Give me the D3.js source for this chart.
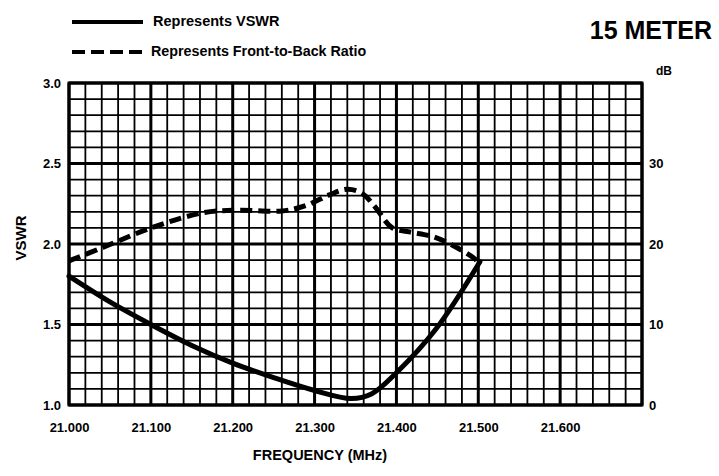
<!DOCTYPE html>
<html><head><meta charset="utf-8">
<script src="https://cdn.jsdelivr.net/npm/d3@7"></script>
<style>
html,body{margin:0;padding:0;background:#fff;}
svg{display:block;font-family:"Liberation Sans",Arial,Helvetica,sans-serif;font-weight:bold;}
</style></head>
<body><svg id="chart" width="719" height="476"></svg>
<script>
// ---- data ----
const freqTickValues = [21.0, 21.1, 21.2, 21.3, 21.4, 21.5, 21.6];
const freqTickLabels = ["21.000","21.100","21.200","21.300","21.400","21.500","21.600"];
const vswrTickValues = [1.0, 1.5, 2.0, 2.5, 3.0];
const vswrTickLabels = ["1.0","1.5","2.0","2.5","3.0"];
const dbTickValues = [0, 10, 20, 30];
const dbTickLabels = ["0","10","20","30"];

const vswrFreq = [21.000, 21.050, 21.100, 21.150, 21.200, 21.250, 21.300, 21.345, 21.370, 21.400, 21.448, 21.502];
const vswrValue = [1.80, 1.64, 1.50, 1.37, 1.26, 1.17, 1.09, 1.04, 1.07, 1.20, 1.47, 1.89];

const fbFreq = [21.000, 21.042, 21.103, 21.165, 21.207, 21.260, 21.290, 21.318, 21.340, 21.358, 21.374, 21.395, 21.416, 21.445, 21.473, 21.494, 21.502];
const fbValue = [17.9, 19.6, 22.1, 23.9, 24.2, 24.1, 24.8, 26.1, 26.8, 26.3, 24.6, 22.0, 21.5, 20.9, 19.6, 18.3, 17.6];

// ---- layout ----
const svg = d3.select("#chart");
const L = 69, R = 642, T = 83, B = 405;
const x = d3.scaleLinear().domain([21.0, 21.7]).range([L, R]);
const y = d3.scaleLinear().domain([1.0, 3.0]).range([B, T]);
const yDb = d3.scaleLinear().domain([0, 40]).range([B, T]);

// grid
const gridX = d3.range(0, 36).map(i => 21.0 + i * 0.02);
const gridY = d3.range(0, 21).map(i => 1.0 + i * 0.1);
const g = svg.append("g");
g.selectAll("line.vx").data(gridX).join("line")
  .attr("x1", d => x(d)).attr("x2", d => x(d)).attr("y1", T).attr("y2", B)
  .attr("stroke", "#000").attr("stroke-width", (d, i) => i % 5 === 0 ? 3 : 1.8);
g.selectAll("line.hy").data(gridY).join("line")
  .attr("x1", L).attr("x2", R).attr("y1", d => y(d)).attr("y2", d => y(d))
  .attr("stroke", "#000").attr("stroke-width", (d, i) => i % 5 === 0 ? 3 : 1.8);
g.append("rect").attr("x", L).attr("y", T).attr("width", R - L).attr("height", B - T)
  .attr("fill", "none").attr("stroke", "#000").attr("stroke-width", 3);

// axes
const axB = svg.append("g").attr("transform", `translate(0,${B + 16})`)
  .call(d3.axisBottom(x).tickValues(freqTickValues).tickFormat((d, i) => freqTickLabels[i]).tickSize(0));
const axL = svg.append("g").attr("transform", `translate(${L - 8},0)`)
  .call(d3.axisLeft(y).tickValues(vswrTickValues).tickFormat((d, i) => vswrTickLabels[i]).tickSize(0));
const axR = svg.append("g").attr("transform", `translate(${R + 7},0)`)
  .call(d3.axisRight(yDb).tickValues(dbTickValues).tickFormat((d, i) => dbTickLabels[i]).tickSize(0));
[axB, axL, axR].forEach(a => {
  a.select(".domain").remove();
  a.selectAll("text").attr("font-family", "Liberation Sans, Arial, sans-serif")
    .attr("font-weight", "bold").attr("font-size", 13).attr("fill", "#000");
});
axB.selectAll("text").attr("dy", "0.35em").attr("y", 6);
axL.selectAll("text").attr("x", 0);
axR.selectAll("text").attr("x", 0);

svg.append("text").attr("x", 656).attr("y", T - 11).attr("text-anchor", "start")
  .attr("dominant-baseline", "middle").attr("font-size", 12).text("dB");

// axis titles
svg.append("text").attr("transform", `translate(22,${(T + B) / 2 - 6}) rotate(-90)`)
  .attr("text-anchor", "middle").attr("dominant-baseline", "middle")
  .attr("font-size", 15).text("VSWR");
svg.append("text").attr("x", 320).attr("y", 456).attr("text-anchor", "middle")
  .attr("dominant-baseline", "middle").attr("font-size", 14.5).text("FREQUENCY (MHz)");

// title
svg.append("text").attr("x", 712).attr("y", 39).attr("text-anchor", "end")
  .attr("font-size", 25).text("15 METER");

// legend
svg.append("line").attr("x1", 72).attr("x2", 143).attr("y1", 22).attr("y2", 22)
  .attr("stroke", "#000").attr("stroke-width", 4);
svg.append("text").attr("x", 153).attr("y", 22).attr("dominant-baseline", "middle")
  .attr("font-size", 14.5).text("Represents VSWR");
svg.append("line").attr("x1", 72).attr("x2", 143).attr("y1", 52).attr("y2", 52)
  .attr("stroke", "#000").attr("stroke-width", 4).attr("stroke-dasharray", "13,6");
svg.append("text").attr("x", 151).attr("y", 52).attr("dominant-baseline", "middle")
  .attr("font-size", 14.3).text("Represents Front-to-Back Ratio");

// curves
const vswrData = vswrFreq.map((f, i) => [f, vswrValue[i]]);
const fbData = fbFreq.map((f, i) => [f, fbValue[i]]);
const lineV = d3.line().x(d => x(d[0])).y(d => y(d[1])).curve(d3.curveCatmullRom.alpha(0.5));
const lineF = d3.line().x(d => x(d[0])).y(d => yDb(d[1])).curve(d3.curveCatmullRom.alpha(0.5));
svg.append("path").datum(vswrData).attr("d", lineV).attr("fill", "none")
  .attr("stroke", "#000").attr("stroke-width", 5).attr("stroke-linecap", "round");
svg.append("path").datum(fbData).attr("d", lineF).attr("fill", "none")
  .attr("stroke", "#000").attr("stroke-width", 5).attr("stroke-dasharray", "12,6");
</script></body></html>
